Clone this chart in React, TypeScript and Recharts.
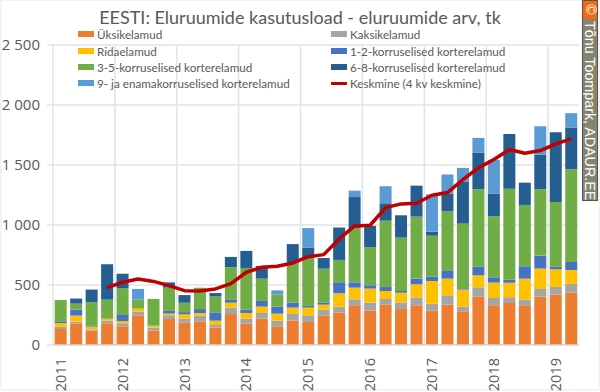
import { Bar, CartesianGrid, ComposedChart, Legend, Line, XAxis, YAxis } from "recharts";

const quarters = [
  "2011", "2011Q2", "2011Q3", "2011Q4",
  "2012", "2012Q2", "2012Q3", "2012Q4",
  "2013", "2013Q2", "2013Q3", "2013Q4",
  "2014", "2014Q2", "2014Q3", "2014Q4",
  "2015", "2015Q2", "2015Q3", "2015Q4",
  "2016", "2016Q2", "2016Q3", "2016Q4",
  "2017", "2017Q2", "2017Q3", "2017Q4",
  "2018", "2018Q2", "2018Q3", "2018Q4",
  "2019", "2019Q2",
];
const yearTicks = ["2011", "2012", "2013", "2014", "2015", "2016", "2017", "2018", "2019"];
const valueTicks = [0, 500, 1000, 1500, 2000, 2500];

const yksik = [133, 178, 120, 181, 153, 247, 120, 217, 186, 197, 145, 258, 178, 220, 156, 203, 192, 247, 270, 331, 286, 336, 300, 331, 286, 336, 281, 403, 331, 350, 331, 403, 420, 436];
const kaksik = [20, 17, 11, 22, 28, 31, 25, 31, 33, 47, 22, 53, 42, 47, 47, 56, 56, 47, 50, 50, 67, 47, 53, 64, 58, 78, 39, 78, 61, 47, 47, 64, 64, 72];
const rida = [30, 50, 22, 14, 19, 25, 14, 14, 36, 22, 36, 42, 47, 53, 58, 53, 64, 42, 111, 97, 117, 67, 83, 111, 189, 139, 142, 100, 128, 122, 175, 170, 147, 117];
const k12 = [14, 50, 6, 3, 50, 0, 3, 22, 19, 33, 69, 28, 28, 47, 58, 42, 14, 19, 92, 44, 28, 33, 14, 47, 36, 64, 11, 72, 44, 25, 103, 108, 22, 67];
const k35 = [178, 50, 197, 158, 222, 75, 222, 194, 78, 178, 133, 267, 347, 186, 103, 331, 395, 281, 186, 450, 317, 553, 445, 517, 342, 498, 539, 645, 509, 759, 511, 553, 539, 773];
const k68 = [0, 42, 106, 295, 122, 0, 0, 42, 64, 0, 28, 86, 142, 106, 0, 156, 89, 89, 270, 261, 178, 145, 186, 258, 33, 145, 347, 306, 189, 456, 186, 289, 581, 347];
const k9 = [0, 0, 0, 0, 0, 89, 0, 6, 0, 0, 0, 0, 0, 0, 33, 0, 164, 0, 0, 53, 0, 142, 0, 0, 311, 161, 117, 122, 281, 0, 0, 236, 0, 120];
const keskmine = [null, null, null, 478, 523, 550, 530, 495, 453, 450, 467, 511, 606, 648, 656, 684, 736, 753, 884, 992, 998, 1145, 1176, 1181, 1248, 1270, 1379, 1476, 1546, 1629, 1598, 1620, 1676, 1718];

const tableData = quarters.map((q, i) => ({
  q,
  yksik: yksik[i],
  kaksik: kaksik[i],
  rida: rida[i],
  k12: k12[i],
  k35: k35[i],
  k68: k68[i],
  k9: k9[i],
  keskmine: keskmine[i],
}));

const seriesList = [
  { key: "yksik", name: "Üksikelamud", color: "#ed7d31" },
  { key: "kaksik", name: "Kaksikelamud", color: "#a5a5a5" },
  { key: "rida", name: "Ridaelamud", color: "#ffc000" },
  { key: "k12", name: "1-2-korruselised korterelamud", color: "#4472c4" },
  { key: "k35", name: "3-5-korruselised korterelamud", color: "#70ad47" },
  { key: "k68", name: "6-8-korruselised korterelamud", color: "#255e91" },
  { key: "k9", name: "9- ja enamakorruselised korterelamud", color: "#5b9bd5" },
];

const legendRows = [...seriesList, { key: "keskmine", name: "Keskmine (4 kv keskmine)", color: "#c00000" }];

const fontName = "Lato, 'Open Sans', sans-serif";

const renderLegend = () => (
  <div style={{ display: "grid", gridTemplateColumns: "253px 200px", fontFamily: fontName, fontSize: 11.7, lineHeight: "12px", color: "#595959" }}>
    {legendRows.map((row) => (
      <div key={row.key} style={{ display: "flex", alignItems: "center", height: 16.4 }}>
        <span
          style={{
            display: "inline-block",
            width: 16,
            height: row.key === "keskmine" ? 3 : 6,
            marginRight: 3,
            background: row.color,
          }}
        />
        {row.name}
      </div>
    ))}
  </div>
);

// year labels read upward, as in the reference
const YearTick = ({ x, y, payload }: any) => (
  <text
    x={x}
    y={y + 5}
    transform={`rotate(-90 ${x} ${y + 5})`}
    textAnchor="end"
    dy={5}
    fill="#595959"
    fontSize={14.5}
    fontFamily="'Open Sans'"
  >
    {payload.value}
  </text>
);

const Watermark = () => (
  <div
    style={{
      position: "absolute",
      left: 582,
      top: 0,
      width: 16,
      height: 201,
      background: "#85856f",
      border: "1px solid #555",
      boxSizing: "border-box",
      overflow: "hidden",
    }}
  >
    <div style={{ height: 18, background: "#f26a10", color: "#fff", fontFamily: "'Liberation Sans'", fontSize: 14, lineHeight: "17px", textAlign: "center" }}>
      <span style={{ display: "inline-block", transform: "rotate(90deg)" }}>©</span>
    </div>
    <div
      style={{
        position: "absolute",
        left: 14,
        top: 20,
        transformOrigin: "0 0",
        transform: "rotate(90deg)",
        whiteSpace: "nowrap",
        fontFamily: "'Liberation Sans'",
        fontSize: 14.3,
        lineHeight: "14px",
        color: "#fff",
      }}
    >
      Tõnu Toompark, ADAUR.EE
    </div>
  </div>
);

export default function App() {
  return (
    <div style={{ position: "absolute", left: 0, top: 0, width: 600, height: 392, background: "#fff" }}>
      <ComposedChart
        width={600}
        height={392}
        data={tableData}
        barCategoryGap="11%"
        margin={{ top: 45, right: 21, bottom: 0, left: 0 }}
      >
        <rect x={1} y={0} width={598} height={390} fill="none" stroke="#e8e8e8" />
        <CartesianGrid
          stroke="#e3e3e3"
          strokeWidth={1.5}
          verticalCoordinatesGenerator={({ offset }: any) =>
            yearTicks.map((y) => offset.left + (quarters.indexOf(y) * offset.width) / quarters.length)
          }
        />
        <XAxis
          dataKey="q"
          ticks={yearTicks}
          interval={0}
          height={47}
          tick={<YearTick />}
          tickLine={false}
          axisLine={{ stroke: "#d9d9d9", strokeWidth: 1.5 }}
        />
        <YAxis
          domain={[0, 2500]}
          ticks={valueTicks}
          width={53}
          tickFormatter={(v: number) => v.toLocaleString("en-US").replace(",", " ")}
          tick={{ fill: "#595959", fontSize: 15, fontFamily: "'Open Sans'" }}
          tickLine={{ stroke: "#e3e3e3", strokeWidth: 1.5 }}
          tickSize={6}
          tickMargin={7}
          axisLine={false}
        />
        {seriesList.map((s) => (
          <Bar key={s.key} dataKey={s.key} name={s.name} stackId="a" fill={s.color} isAnimationActive={false} />
        ))}
        <Line
          dataKey="keskmine"
          name="Keskmine (4 kv keskmine)"
          type="linear"
          stroke="#c00000"
          strokeWidth={3.5}
          strokeLinejoin="round"
          dot={false}
          isAnimationActive={false}
        />
        <Legend
          layout="horizontal"
          align="center"
          verticalAlign="middle"
          content={renderLegend}
          wrapperStyle={{ left: 78, top: 26, width: 460 }}
        />
        <text x={300} y={24} textAnchor="middle" fill="#595959" fontSize={18} fontFamily={fontName}>
          EESTI: Eluruumide kasutusload - eluruumide arv, tk
        </text>
      </ComposedChart>
      <Watermark />
    </div>
  );
}
